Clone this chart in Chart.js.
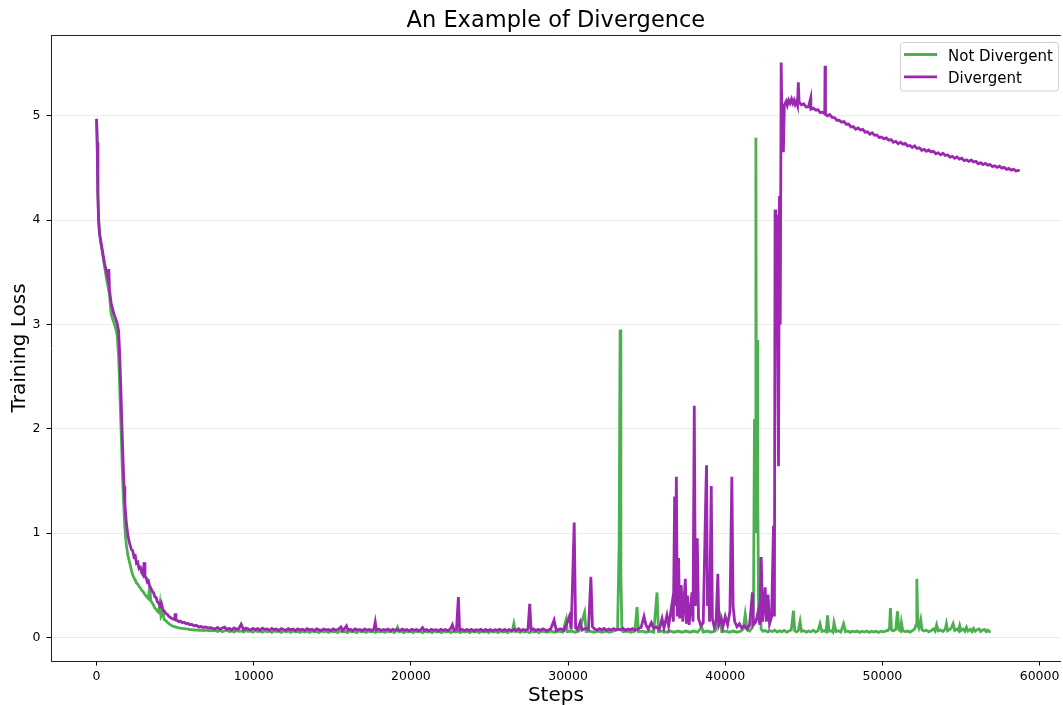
<!DOCTYPE html>
<html><head><meta charset="utf-8">
<script src="https://cdn.jsdelivr.net/npm/chart.js@4.4.0/dist/chart.umd.min.js"></script>
<style>html,body{margin:0;padding:0;background:#fff}canvas{display:block}</style>
</head><body>
<canvas id="c" width="1063" height="705"></canvas>
<script>
const chartTitle = 'An Example of Divergence';
const seriesLabels = ['Not Divergent', 'Divergent'];
const xTicks = [0, 10000, 20000, 30000, 40000, 50000, 60000];
const yTicks = [0, 1, 2, 3, 4, 5];

const notDivergentSteps = [
0, 40, 80, 130, 190, 290, 400, 500, 650, 780,
820, 930, 1000, 1100, 1200, 1310, 1400, 1460, 1530, 1590,
1640, 1690, 1750, 1800, 1850, 1900, 2000, 2100, 2220, 2300,
2380, 2460, 2540, 2620, 2700, 2790, 2870, 2950, 3030, 3130,
3230, 3300, 3380, 3450, 3540, 3620, 3700, 3790, 3870, 3950,
4030, 4100, 4230, 4300, 4400, 4500, 4600, 4700, 4800, 4900,
5000, 5120, 5230, 5340, 5450, 5580, 5700, 5810, 5920, 6050,
6200, 6350, 6500, 6650, 6800, 6950, 7100, 7250, 7400,
7550, 7700, 7850, 8000, 8150, 8300, 8450, 8600, 8750, 8900,
9050, 9200, 9350, 9500, 9650, 9800, 9950, 10100, 10250, 10400,
10550, 10700, 10850, 11000, 11150, 11300, 11450, 11600, 11750, 11900,
12050, 12200, 12350, 12500, 12650, 12800, 12950, 13100, 13250, 13400,
13550, 13700, 13850, 14000, 14150, 14300, 14450, 14600, 14750, 14900,
15050, 15200, 15350, 15500, 15650, 15800, 15950, 16100, 16250, 16400,
16550, 16700, 16850, 17000, 17150, 17300, 17450, 17600, 17750, 17900,
18050, 18200, 18350, 18500, 18650, 18800, 18950, 19050, 19150, 19250,
19400, 19550, 19700, 19850, 20000, 20150, 20300, 20450, 20600, 20750,
20900, 21050, 21200, 21350, 21500, 21650, 21800, 21950, 22100, 22250,
22400, 22550, 22700, 22850, 23000, 23150, 23300, 23450, 23600, 23750,
23900, 24050, 24200, 24350, 24500, 24650, 24800, 24950, 25100, 25250,
25400, 25550, 25700, 25850, 26000, 26150, 26300, 26450, 26550, 26650,
26800, 26950, 27100, 27250, 27400, 27550, 27700, 27850, 28000, 28150,
28300,
28400, 28650, 28900, 29150, 29400, 29650, 29880, 29950, 30200, 30450,
30700, 31050, 31150, 31400, 31650, 31900, 32150, 32400, 32650, 32900,
33150, 33250, 33310, 33360, 33420, 33500, 33750, 34000, 34250, 34390,
34480, 34700, 34950, 35200, 35450, 35660, 35750, 36000, 36250, 36500,
36750, 37000, 37250, 37500, 37750, 38000, 38250, 38500, 38600, 38850,
39100, 39350, 39680, 39780, 40000, 40250, 40500, 40750, 41000, 41150,
41270, 41400, 41550, 41700, 41800, 41860, 41900, 41950, 41990, 42030,
42070, 42120, 42170, 42220,
42280, 42400, 42550, 42700, 42850, 43000, 43150, 43300, 43450, 43600,
43750, 43900, 44050, 44200, 44340, 44420, 44550, 44650, 44760, 44850,
45000, 45150, 45300, 45450, 45600, 45750, 45900, 46030, 46150, 46300,
46420, 46510, 46600, 46750, 46850, 46920, 47050, 47200, 47350, 47530,
47650, 47800, 47950, 48100, 48250, 48400, 48550, 48700, 48850, 49000,
49150, 49300, 49450, 49600, 49750, 49900, 50050, 50200, 50350, 50450,
50510, 50580, 50700, 50850, 50960, 51050, 51150, 51210, 51300, 51450,
51600, 51750, 51900, 52050, 52140, 52190, 52250, 52320, 52440, 52520,
52650, 52800, 52950, 53100, 53250, 53350, 53450, 53550, 53700, 53850,
54000, 54070, 54150, 54300, 54400, 54500, 54600, 54750, 54850, 54920,
55000, 55150, 55250, 55350, 55450, 55600, 55700, 55800, 55900, 56050,
56150, 56250, 56400, 56500, 56600, 56700, 56800, 56890
];
const notDivergentLoss = [
4.97, 4.74, 4.25, 3.99, 3.86, 3.76, 3.66, 3.56, 3.42, 3.32,
3.28, 3.10, 3.06, 3.02, 2.97, 2.90, 2.70, 2.45, 2.12, 1.85,
1.60, 1.40, 1.20, 1.05, 0.95, 0.88, 0.78, 0.72, 0.64, 0.60,
0.57, 0.55, 0.52, 0.51, 0.49, 0.47, 0.45, 0.44, 0.42, 0.40,
0.38, 0.37, 0.50, 0.35, 0.33, 0.31, 0.28, 0.27, 0.25, 0.24,
0.32, 0.20, 0.24, 0.17, 0.16, 0.145, 0.13, 0.12, 0.11, 0.105,
0.10, 0.095, 0.09, 0.088, 0.085, 0.083, 0.08, 0.078, 0.075, 0.073,
0.07, 0.072, 0.068, 0.07, 0.065, 0.068, 0.064, 0.066, 0.062,
0.066, 0.056, 0.068, 0.054, 0.063, 0.070, 0.055, 0.064, 0.052, 0.066,
0.057, 0.062, 0.051, 0.065, 0.055, 0.061, 0.050, 0.064, 0.056, 0.060,
0.049, 0.063, 0.054, 0.060, 0.048, 0.062, 0.055, 0.059, 0.048, 0.063,
0.053, 0.060, 0.047, 0.062, 0.054, 0.058, 0.047, 0.062, 0.052, 0.059,
0.047, 0.061, 0.053, 0.058, 0.046, 0.061, 0.052, 0.058, 0.047, 0.061,
0.052, 0.057, 0.046, 0.061, 0.053, 0.058, 0.046, 0.060, 0.052, 0.057,
0.046, 0.061, 0.052, 0.057, 0.046, 0.060, 0.053, 0.057, 0.046, 0.060,
0.052, 0.057, 0.046, 0.060, 0.052, 0.057, 0.046, 0.060, 0.095, 0.052,
0.058, 0.046, 0.060, 0.052, 0.057, 0.045, 0.060, 0.052, 0.056, 0.045,
0.060, 0.051, 0.056, 0.045, 0.059, 0.051, 0.056, 0.045, 0.059, 0.051,
0.056, 0.045, 0.059, 0.051, 0.056, 0.045, 0.059, 0.051, 0.056, 0.045,
0.059, 0.051, 0.056, 0.045, 0.059, 0.051, 0.056, 0.045, 0.059, 0.051,
0.056, 0.045, 0.059, 0.051, 0.056, 0.045, 0.059, 0.058, 0.130, 0.054,
0.059, 0.046, 0.058, 0.051, 0.056, 0.045, 0.058, 0.051, 0.056, 0.045,
0.058,
0.060, 0.049, 0.060, 0.049, 0.060, 0.050, 0.170, 0.055, 0.060, 0.049,
0.060, 0.240, 0.055, 0.060, 0.049, 0.060, 0.049, 0.060, 0.049, 0.060,
0.080, 0.900, 2.950, 0.600, 0.100, 0.055, 0.060, 0.049, 0.060, 0.290,
0.055, 0.060, 0.049, 0.060, 0.049, 0.430, 0.055, 0.060, 0.049, 0.060,
0.049, 0.060, 0.049, 0.060, 0.049, 0.060, 0.049, 0.100, 0.050, 0.060,
0.049, 0.060, 0.200, 0.055, 0.060, 0.049, 0.060, 0.049, 0.060, 0.080,
0.220, 0.070, 0.060, 0.090, 0.300, 2.090, 1.200, 4.790, 1.000, 2.850,
1.370, 0.300, 0.200, 0.770,
0.080, 0.058, 0.066, 0.052, 0.063, 0.055, 0.068, 0.051, 0.062, 0.054,
0.066, 0.050, 0.061, 0.070, 0.255, 0.062, 0.053, 0.065, 0.150, 0.058,
0.064, 0.050, 0.061, 0.053, 0.068, 0.050, 0.062, 0.130, 0.056, 0.064,
0.052, 0.210, 0.058, 0.063, 0.050, 0.140, 0.056, 0.062, 0.050, 0.130,
0.054, 0.061, 0.048, 0.059, 0.052, 0.060, 0.047, 0.058, 0.051, 0.060,
0.047, 0.058, 0.051, 0.059, 0.047, 0.058, 0.052, 0.060, 0.066, 0.090,
0.280, 0.070, 0.062, 0.075, 0.250, 0.072, 0.060, 0.140, 0.062, 0.055,
0.060, 0.050, 0.062, 0.080, 0.120, 0.560, 0.120, 0.090, 0.170, 0.072,
0.060, 0.068, 0.052, 0.064, 0.080, 0.060, 0.120, 0.062, 0.070, 0.056,
0.080, 0.130, 0.062, 0.075, 0.095, 0.130, 0.066, 0.080, 0.062, 0.110,
0.064, 0.078, 0.058, 0.095, 0.060, 0.078, 0.056, 0.085, 0.058, 0.075,
0.080, 0.056, 0.072, 0.075, 0.054, 0.068, 0.055, 0.060
];

const divergentSteps = [
0, 40, 80, 130, 190, 290, 400, 500, 650, 720,
780, 820, 930, 1000, 1100, 1200, 1310, 1400, 1460, 1530,
1590, 1640, 1690, 1750, 1800, 1850, 1900, 2000, 2100, 2220,
2300, 2380, 2460, 2540, 2620, 2700, 2790, 2870, 2950, 3030,
3080, 3160, 3230, 3300, 3380, 3460, 3540, 3620, 3700, 3790,
3870, 3950, 4030, 4120, 4230, 4310, 4400, 4500, 4600, 4700,
4800, 4900, 4970, 5000, 5050, 5150, 5230, 5340, 5450, 5580,
5700, 5810, 5920, 6050, 6200, 6350, 6500, 6650, 6800, 6950,
7100, 7250, 7400,
7550, 7700, 7850, 8000, 8150, 8300, 8450, 8600, 8750, 8900,
9050, 9200, 9350, 9500, 9650, 9800, 9950, 10100, 10250, 10400,
10550, 10700, 10850, 11000, 11150, 11300, 11450, 11600, 11750, 11900,
12050, 12200, 12350, 12500, 12650, 12800, 12950, 13100, 13250, 13400,
13550, 13700, 13850, 14000, 14150, 14300, 14450, 14600, 14750, 14900,
15050, 15200, 15350, 15550, 15650, 15750, 15900, 16000, 16150, 16300,
16450, 16600, 16750, 16900, 17050, 17200, 17350, 17500, 17650, 17730,
17800, 17950, 18100, 18250, 18400, 18550, 18700, 18850, 19000, 19150,
19300, 19450, 19600, 19750, 19900, 20050, 20200, 20350, 20500, 20650,
20740, 20850, 21000, 21150, 21300, 21450, 21600, 21750, 21900, 22050,
22200, 22350, 22500, 22640, 22750, 22900, 23020, 23100, 23250, 23400,
23550, 23700, 23850, 24000, 24150, 24300, 24450, 24600, 24750, 24900,
25050, 25200, 25350, 25500, 25650, 25800, 25950, 26100, 26250, 26400,
26550, 26700, 26850, 27000, 27150, 27300, 27450, 27560, 27650, 27800,
27950, 28100, 28250,
28400, 28650, 28900, 29110, 29250, 29500, 29750, 30080, 30200, 30390,
30480, 30600, 30770, 30900, 31100, 31300, 31450, 31550, 31700, 31850,
32000, 32150, 32300, 32450, 32600, 32750, 32900, 33050, 33200, 33350,
33500, 33650, 33800, 33950, 34100, 34250, 34400, 34550, 34650, 34830,
34950, 35100, 35300, 35450, 35600, 35800, 35980, 36100, 36290, 36400,
36610, 36700, 36780, 36830, 36890, 36950, 37030, 37100, 37200, 37300,
37460, 37530, 37600, 37700, 37880, 37950, 38030, 38100, 38220, 38300,
38450, 38600, 38770, 38810, 38870, 38940, 39000, 39110, 39180, 39300,
39420, 39530, 39600, 39750, 39850, 40000, 40150, 40300, 40420, 40500,
40600, 40750, 40900, 41050, 41200, 41400, 41550, 41730, 41800, 41950,
42100, 42200, 42290, 42380, 42540, 42620, 42720, 42820, 42950, 43070,
43130, 43170, 43220, 43280, 43390, 43450, 43500, 43560, 43620, 43700,
43760, 43810, 43880, 43950, 44040, 44130, 44220, 44300, 44380, 44450,
44530, 44600, 44650,
44700, 44850, 45000, 45150, 45300, 45440, 45450, 45600, 45750, 45900,
46050, 46200, 46330, 46350, 46380, 46500, 46650, 46800, 46950, 47100,
47250, 47400, 47550, 47700, 47850, 48000, 48150, 48300, 48450, 48600,
48750, 48900, 49050, 49200, 49350, 49500, 49650, 49800, 49950, 50100,
50250, 50400, 50550, 50700, 50850, 51000, 51150, 51300, 51450, 51600,
51750, 51900, 52050, 52200, 52350, 52500, 52650, 52800, 52950, 53100,
53250, 53400, 53550, 53700, 53850, 54000, 54150, 54300, 54450, 54600,
54750, 54900, 55050, 55200, 55350, 55500, 55650, 55800, 55950, 56100,
56250, 56400, 56550, 56700, 56850, 57000, 57150, 57300, 57450, 57600,
57750, 57900, 58050, 58200, 58350, 58500, 58650, 58730
];
const divergentLoss = [
4.97, 4.74, 4.26, 4.00, 3.87, 3.78, 3.68, 3.59, 3.49, 3.44,
3.53, 3.33, 3.20, 3.16, 3.10, 3.06, 3.01, 2.94, 2.75, 2.45,
2.15, 1.90, 1.67, 1.45, 1.29, 1.18, 1.09, 0.97, 0.90, 0.84,
0.83, 0.77, 0.78, 0.71, 0.72, 0.66, 0.67, 0.62, 0.60, 0.72,
0.58, 0.57, 0.53, 0.54, 0.49, 0.47, 0.44, 0.43, 0.39, 0.38,
0.34, 0.33, 0.30, 0.33, 0.26, 0.25, 0.23, 0.22, 0.20, 0.19,
0.18, 0.175, 0.17, 0.23, 0.17, 0.16, 0.15, 0.155, 0.14, 0.145,
0.13, 0.135, 0.12, 0.125, 0.11, 0.115, 0.10, 0.105, 0.095, 0.10,
0.09, 0.093, 0.086,
0.080, 0.094, 0.076, 0.089, 0.097, 0.074, 0.086, 0.071, 0.090, 0.078,
0.084, 0.125, 0.072, 0.088, 0.079, 0.070, 0.086, 0.074, 0.083, 0.068,
0.087, 0.076, 0.081, 0.067, 0.085, 0.073, 0.080, 0.066, 0.084, 0.075,
0.069, 0.083, 0.072, 0.080, 0.065, 0.082, 0.071, 0.078, 0.066, 0.083,
0.070, 0.077, 0.064, 0.081, 0.072, 0.066, 0.080, 0.069, 0.076, 0.064,
0.080, 0.070, 0.075, 0.100, 0.066, 0.079, 0.110, 0.068, 0.077, 0.064,
0.080, 0.070, 0.075, 0.063, 0.079, 0.069, 0.076, 0.065, 0.080, 0.145,
0.072, 0.079, 0.066, 0.076, 0.069, 0.078, 0.063, 0.077, 0.068, 0.074,
0.063, 0.078, 0.068, 0.075, 0.062, 0.077, 0.067, 0.074, 0.063, 0.076,
0.092, 0.066, 0.075, 0.062, 0.076, 0.068, 0.073, 0.062, 0.076, 0.067,
0.074, 0.063, 0.077, 0.120, 0.066, 0.075, 0.385, 0.068, 0.076, 0.063,
0.074, 0.066, 0.077, 0.062, 0.073, 0.067, 0.076, 0.062, 0.074, 0.066,
0.075, 0.062, 0.073, 0.067, 0.076, 0.063, 0.074, 0.066, 0.075, 0.062,
0.076, 0.066, 0.082, 0.064, 0.075, 0.067, 0.078, 0.320, 0.070, 0.080,
0.064, 0.077, 0.066,
0.082, 0.064, 0.080, 0.165, 0.066, 0.082, 0.065, 0.200, 0.075, 1.100,
0.090, 0.072, 0.145, 0.070, 0.085, 0.075, 0.580, 0.100, 0.080, 0.068,
0.083, 0.072, 0.086, 0.067, 0.080, 0.070, 0.084, 0.068, 0.079, 0.071,
0.085, 0.067, 0.080, 0.072, 0.083, 0.068, 0.078, 0.090, 0.095, 0.200,
0.120, 0.080, 0.140, 0.085, 0.100, 0.075, 0.180, 0.090, 0.210, 0.110,
0.320, 0.150, 1.350, 0.300, 1.540, 0.200, 0.760, 0.180, 0.500, 0.150,
0.560, 0.130, 0.400, 0.120, 0.430, 0.150, 2.220, 0.300, 0.950, 0.180,
0.110, 0.140, 1.410, 1.650, 0.300, 0.600, 0.150, 1.450, 0.180, 0.100,
0.160, 0.610, 0.120, 0.180, 0.100, 0.200, 0.120, 0.250, 1.540, 0.300,
0.150, 0.100, 0.130, 0.090, 0.110, 0.080, 0.120, 0.430, 0.120, 0.150,
0.250, 0.120, 0.770, 0.150, 0.480, 0.150, 0.410, 0.130, 0.200, 1.070,
0.200, 4.100, 3.900, 4.050, 1.640, 4.230, 3.000, 5.510, 4.800, 4.650,
5.100, 5.120, 5.140, 5.100, 5.150, 5.120, 5.160, 5.120, 5.150, 5.110,
5.140, 5.100, 5.320,
5.129, 5.105, 5.113, 5.083, 5.087, 5.170, 5.063, 5.073, 5.055, 5.057,
5.030, 5.034, 5.018, 5.480, 5.020, 4.998, 5.011, 4.984, 4.983, 4.957,
4.958, 4.938, 4.944, 4.919, 4.921, 4.892, 4.896, 4.870, 4.883, 4.863,
4.869, 4.842, 4.846, 4.823, 4.837, 4.812, 4.816, 4.790, 4.796, 4.778,
4.787, 4.765, 4.771, 4.746, 4.755, 4.731, 4.746, 4.728, 4.735, 4.710,
4.715, 4.695, 4.711, 4.686, 4.693, 4.669, 4.677, 4.660, 4.673, 4.653,
4.659, 4.635, 4.645, 4.625, 4.640, 4.620, 4.624, 4.602, 4.610, 4.592,
4.605, 4.585, 4.593, 4.569, 4.578, 4.562, 4.575, 4.556, 4.562, 4.540,
4.550, 4.532, 4.544, 4.526, 4.533, 4.512, 4.521, 4.505, 4.516, 4.498,
4.505, 4.486, 4.495, 4.479, 4.487, 4.471, 4.476, 4.470
];

const FONT = 'DejaVu Sans';
const LINE_W = 2.8;
const toPoints = (xs, ys) => xs.map((x, i) => ({ x: x, y: ys[i] }));

const frameAndLegend = {
  id: 'frameAndLegend',
  afterDraw(chart) {
    const { ctx, chartArea } = chart;
    ctx.save();
    ctx.strokeStyle = '#222';
    ctx.lineWidth = 1;
    ctx.beginPath();
    ctx.moveTo(chartArea.left, chartArea.top + 0.5);
    ctx.lineTo(chartArea.right, chartArea.top + 0.5);
    ctx.stroke();
    const bx = 900.5, by = 42.5, bw = 158, bh = 48.5, r = 3;
    ctx.beginPath();
    ctx.moveTo(bx + r, by);
    ctx.lineTo(bx + bw - r, by);
    ctx.arcTo(bx + bw, by, bx + bw, by + r, r);
    ctx.lineTo(bx + bw, by + bh - r);
    ctx.arcTo(bx + bw, by + bh, bx + bw - r, by + bh, r);
    ctx.lineTo(bx + r, by + bh);
    ctx.arcTo(bx, by + bh, bx, by + bh - r, r);
    ctx.lineTo(bx, by + r);
    ctx.arcTo(bx, by, bx + r, by, r);
    ctx.closePath();
    ctx.fillStyle = 'rgba(255,255,255,0.85)';
    ctx.fill();
    ctx.strokeStyle = '#d0d0d0';
    ctx.stroke();
    chart.data.datasets.forEach((ds, i) => {
      const y = 54.5 + i * 22.3;
      ctx.strokeStyle = ds.borderColor;
      ctx.lineWidth = LINE_W;
      ctx.beginPath();
      ctx.moveTo(904, y);
      ctx.lineTo(937, y);
      ctx.stroke();
      ctx.fillStyle = '#000';
      ctx.font = '15px "' + FONT + '"';
      ctx.textBaseline = 'alphabetic';
      ctx.textAlign = 'left';
      ctx.fillText(ds.label, 948, y + 6);
    });
    ctx.restore();
  }
};

new Chart(document.getElementById('c'), {
  type: 'line',
  data: {
    datasets: [
      { label: seriesLabels[0], data: toPoints(notDivergentSteps, notDivergentLoss),
        borderColor: '#4caf50', borderWidth: LINE_W, pointRadius: 0, tension: 0, fill: false, order: 1 },
      { label: seriesLabels[1], data: toPoints(divergentSteps, divergentLoss),
        borderColor: '#9c27b0', borderWidth: LINE_W, pointRadius: 0, tension: 0, fill: false, order: 0 }
    ]
  },
  options: {
    responsive: false,
    animation: false,
    devicePixelRatio: 1,
    layout: { padding: 0 },
    events: [],
    plugins: {
      legend: { display: false },
      tooltip: { enabled: false },
      title: { display: true, text: chartTitle, color: '#000', fullSize: false,
        font: { family: FONT, size: 22.5, weight: 'normal', lineHeight: 1.2 },
        padding: { top: 8, bottom: 0 } }
    },
    scales: {
      x: {
        type: 'linear', min: -2900, max: 61350,
        afterBuildTicks: s => { s.ticks = xTicks.map(v => ({ value: v })); },
        afterFit: s => { s.height = 44; },
        ticks: { color: '#000', font: { family: FONT, size: 12.5 }, padding: 3.5,
          maxRotation: 0, autoSkip: false, callback: v => String(v) },
        grid: { display: true, drawOnChartArea: false, drawTicks: true, tickLength: 4.5, tickColor: '#000', tickWidth: 1 },
        border: { display: true, color: '#222', width: 1 },
        title: { display: true, text: 'Steps', color: '#000',
          font: { family: FONT, size: 20, lineHeight: 0.9 }, padding: { top: 0, bottom: 0 } }
      },
      y: {
        type: 'linear', min: -0.227, max: 5.774,
        afterBuildTicks: s => { s.ticks = yTicks.map(v => ({ value: v })); },
        afterFit: s => { s.width = 51; },
        ticks: { color: '#000', font: { family: FONT, size: 12.5 }, padding: 6, callback: v => String(v) },
        grid: { color: 'rgba(0,0,0,0.075)', lineWidth: 1, drawTicks: true, tickLength: 4.5, tickColor: '#000', tickWidth: 1 },
        border: { display: true, color: '#222', width: 1 },
        title: { display: true, text: 'Training Loss', color: '#000',
          font: { family: FONT, size: 20, lineHeight: 1.2 }, padding: { top: 8, bottom: 0 } }
      }
    }
  },
  plugins: [frameAndLegend]
});
</script>
</body></html>
